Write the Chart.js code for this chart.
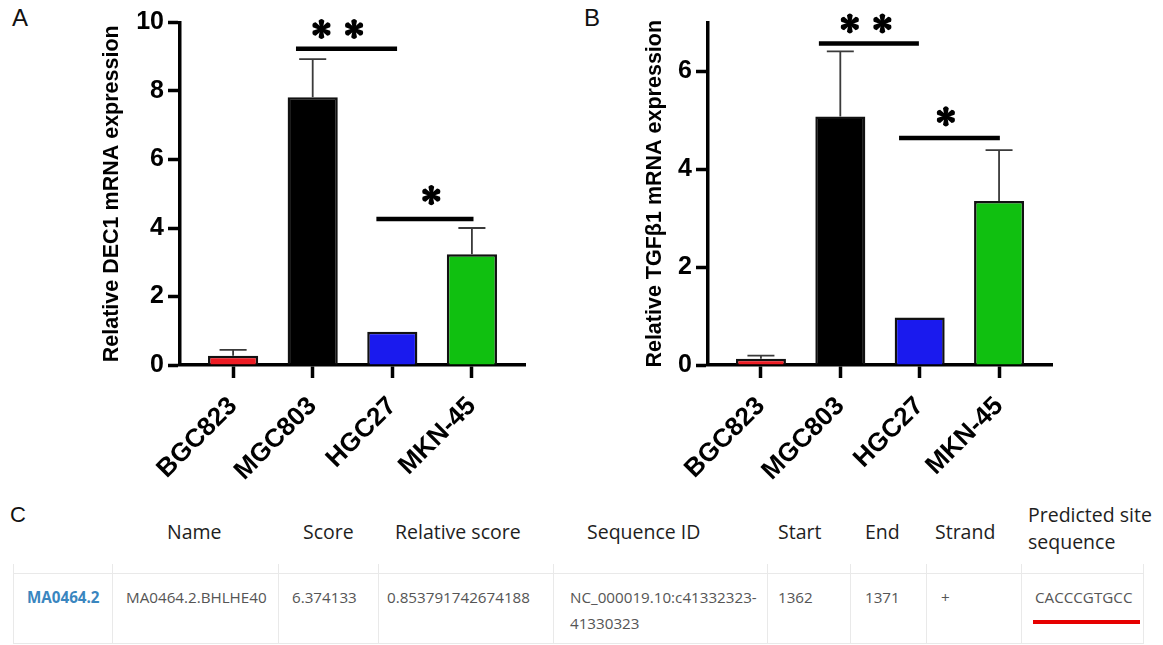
<!DOCTYPE html>
<html>
<head>
<meta charset="utf-8">
<script src="https://cdn.jsdelivr.net/npm/chart.js@4/dist/chart.umd.min.js"></script>
<style>
  html,body{margin:0;padding:0;background:#fff;}
  #wrap{position:relative;width:1163px;height:645px;overflow:hidden;background:#fff;}
  canvas{position:absolute;top:0;}
  .pl{position:absolute;font:24px "Liberation Sans",Arial,sans-serif;line-height:24px;color:#111;}
  .th{position:absolute;font:19.5px "Open Sans",sans-serif;line-height:27px;color:#1e1e1e;white-space:pre;}
  .td{position:absolute;font:15.2px "Open Sans",sans-serif;line-height:26px;color:#555;white-space:pre;}
  .hl{position:absolute;background:#e9e9e9;height:1px;}
  .vl{position:absolute;background:#e9e9e9;width:1px;}
</style>
</head>
<body>
<div id="wrap">
  <div class="pl" style="left:12px;top:6px">A</div>
  <div class="pl" style="left:584px;top:6px">B</div>
  <div class="pl" style="left:10px;top:503px;font-size:22px">C</div>
  <canvas id="cA" width="580" height="490" style="left:0"></canvas>
  <canvas id="cB" width="583" height="490" style="left:580px"></canvas>
  <div id="tbl"></div>
</div>
<script>
// ---------------- data ----------------
const categories = ['BGC823', 'MGC803', 'HGC27', 'MKN-45'];
const barColors = ['#ee1c24', '#000000', '#1a1aee', '#10c010'];

const dec1Values = [0.27, 7.82, 0.97, 3.23];
const dec1Errors = [0.17, 1.11, 0, 0.77];
const dec1Ticks = [0, 2, 4, 6, 8, 10];
const dec1Max = 10;

const tgfValues = [0.13, 5.08, 0.97, 3.35];
const tgfErrors = [0.06, 1.33, 0, 1.04];
const tgfTicks = [0, 2, 4, 6];
const tgfMax = 7;

// significance brackets: [fromIndex, toIndex, yValue]
const dec1SigLines = [[0.79, 2.06, 9.23], [1.80, 3.02, 4.26]];
const dec1Stars = [[1.11, 9.81], [1.52, 9.81], [2.49, 4.96]];
const tgfSigLines = [[0.73, 1.99, 6.57], [1.74, 3.01, 4.64]];
const tgfStars = [[1.12, 6.98], [1.53, 6.98], [2.33, 5.08]];

// table
const tableHeaders = ['Name', 'Score', 'Relative score', 'Sequence ID', 'Start', 'End', 'Strand', 'Predicted site\nsequence'];
const tableRow = ['MA0464.2', 'MA0464.2.BHLHE40', '6.374133', '0.853791742674188', 'NC_000019.10:c41332323-\n41330323', '1362', '1371', '+', 'CACCCGTGCC'];

// ---------------- table layout ----------------
const headerX = [167, 303, 395, 587, 778, 865, 935, 1028];
const rowX = [27, 126, 292, 387, 570, 778, 865, 941, 1035];
const colLines = [13, 112, 278, 378, 553, 767, 850, 926, 1021, 1143];
(function buildTable(){
  const t = document.getElementById('tbl');
  let h = '';
  tableHeaders.forEach((s, i) => {
    const two = s.indexOf('\n') >= 0;
    h += `<div class="th" style="left:${headerX[i]}px;top:${two ? 501 : 518}px">${s}</div>`;
  });
  tableRow.forEach((s, i) => {
    const st = i === 0 ? 'font-weight:bold;color:#3a86bf;' : '';
    h += `<div class="td" style="left:${rowX[i]}px;top:584px;${st}">${s}</div>`;
  });
  h += `<div class="hl" style="left:13px;width:1131px;top:573px"></div>`;
  h += `<div class="hl" style="left:13px;width:1131px;top:643px"></div>`;
  colLines.forEach(x => { h += `<div class="vl" style="left:${x}px;top:564px;height:80px"></div>`; });
  h += `<div style="position:absolute;left:1033px;top:620px;width:107px;height:4px;background:#e60000"></div>`;
  t.innerHTML = h;
})();

// ---------------- charts ----------------
function drawAsterisk(ctx, cx, cy, r) {
  // six-armed asterisk (vertical arm + two diagonals), arms widening toward the tips
  ctx.save();
  ctx.translate(cx, cy);
  for (let k = 0; k < 3; k++) {
    ctx.save();
    ctx.rotate(k * Math.PI / 3);
    ctx.beginPath();
    const w0 = 1.3, w1 = 2.9;
    ctx.moveTo(-w0, 0); ctx.lineTo(-w1, -r + 2.2); ctx.quadraticCurveTo(0, -r - 1.4, w1, -r + 2.2); ctx.lineTo(w0, 0);
    ctx.lineTo(w1, r - 2.2); ctx.quadraticCurveTo(0, r + 1.4, -w1, r - 2.2); ctx.closePath();
    ctx.fill();
    ctx.restore();
  }
  ctx.beginPath(); ctx.arc(0, 0, 2.3, 0, Math.PI * 2); ctx.fill();
  ctx.restore();
}

function annotPlugin(vals, errs, sigLines, stars) {
  return {
    id: 'annot',
    afterDatasetsDraw(chart) {
      const {ctx, scales: {x, y}} = chart;
      ctx.save();
      // error bars
      ctx.strokeStyle = '#3a3a3a';
      ctx.lineWidth = 1.8;
      vals.forEach((v, i) => {
        if (!errs[i]) return;
        const px = x.getPixelForValue(i);
        const y0 = y.getPixelForValue(v);
        const y1 = y.getPixelForValue(v + errs[i]);
        const hw = x.getPixelForValue(i + 0.17) - px;
        ctx.beginPath();
        ctx.moveTo(px, y0); ctx.lineTo(px, y1);
        ctx.moveTo(px - hw, y1); ctx.lineTo(px + hw, y1);
        ctx.stroke();
      });
      // significance lines
      ctx.strokeStyle = '#000';
      ctx.lineWidth = 4.5;
      sigLines.forEach(([a, b, v]) => {
        const yy = y.getPixelForValue(v);
        ctx.beginPath();
        ctx.moveTo(x.getPixelForValue(a), yy);
        ctx.lineTo(x.getPixelForValue(b), yy);
        ctx.stroke();
      });
      // significance asterisks
      ctx.fillStyle = '#000';
      stars.forEach(([sx, sy]) => drawAsterisk(ctx, x.getPixelForValue(sx), y.getPixelForValue(sy), 10.5));
      ctx.restore();
    }
  };
}

function makeChart(id, yWidth, vals, errs, yTicks, yMax, title, titlePad, padRight, sigLines, stars) {
  const tickFont = {family: '"Liberation Sans", Arial, sans-serif', size: 25, weight: 'bold'};
  const xFont = {family: '"Liberation Sans", Arial, sans-serif', size: 26, weight: 'bold'};
  return new Chart(document.getElementById(id), {
    type: 'bar',
    data: {
      datasets: [{
        data: categories.map((c, i) => ({x: i, y: vals[i]})),
        backgroundColor: barColors,
        borderColor: '#111',
        borderWidth: 2.5,
        borderSkipped: 'start',
        barPercentage: 0.63,
        categoryPercentage: 1
      }]
    },
    options: {
      responsive: false,
      animation: false,
      events: [],
      layout: {padding: {left: 0, top: 22.5, right: padRight, bottom: 0}},
      plugins: {legend: {display: false}, tooltip: {enabled: false}},
      scales: {
        x: {
          type: 'linear',
          min: -0.667, max: 3.667,
          offset: false,
          afterBuildTicks: s => { s.ticks = categories.map((c, i) => ({value: i})); },
          afterFit: s => { s.height = 125; },
          grid: {display: true, drawOnChartArea: false, drawTicks: true, tickLength: 13, tickWidth: 3.5, tickColor: '#000', offset: false},
          border: {display: true, color: '#000', width: 3.5},
          ticks: {
            autoSkip: false, maxRotation: 45, minRotation: 45, padding: 13,
            color: '#000', font: xFont,
            callback: v => categories[Math.round(v)]
          }
        },
        y: {
          type: 'linear',
          min: 0, max: yMax,
          afterBuildTicks: s => { s.ticks = yTicks.map(v => ({value: v})); },
          afterFit: s => { s.width = yWidth; },
          grid: {display: true, drawOnChartArea: false, drawTicks: true, tickLength: 12, tickWidth: 3.5, tickColor: '#000'},
          border: {display: true, color: '#000', width: 3.5},
          ticks: {padding: 4, color: '#000', font: tickFont, callback: v => String(v)},
          title: {
            display: true, text: title, color: '#000',
            font: {family: '"Liberation Sans", Arial, sans-serif', size: 21.5, weight: 'bold'},
            padding: {top: titlePad, bottom: 0}
          }
        }
      }
    },
    plugins: [annotPlugin(vals, errs, sigLines, stars)]
  });
}

makeChart('cA', 180, dec1Values, dec1Errors, dec1Ticks, dec1Max, 'Relative DEC1 mRNA expression', 99, 55, dec1SigLines, dec1Stars);
makeChart('cB', 128, tgfValues, tgfErrors, tgfTicks, tgfMax, 'Relative TGFβ1 mRNA expression', 62, 111, tgfSigLines, tgfStars);
</script>
</body>
</html>
